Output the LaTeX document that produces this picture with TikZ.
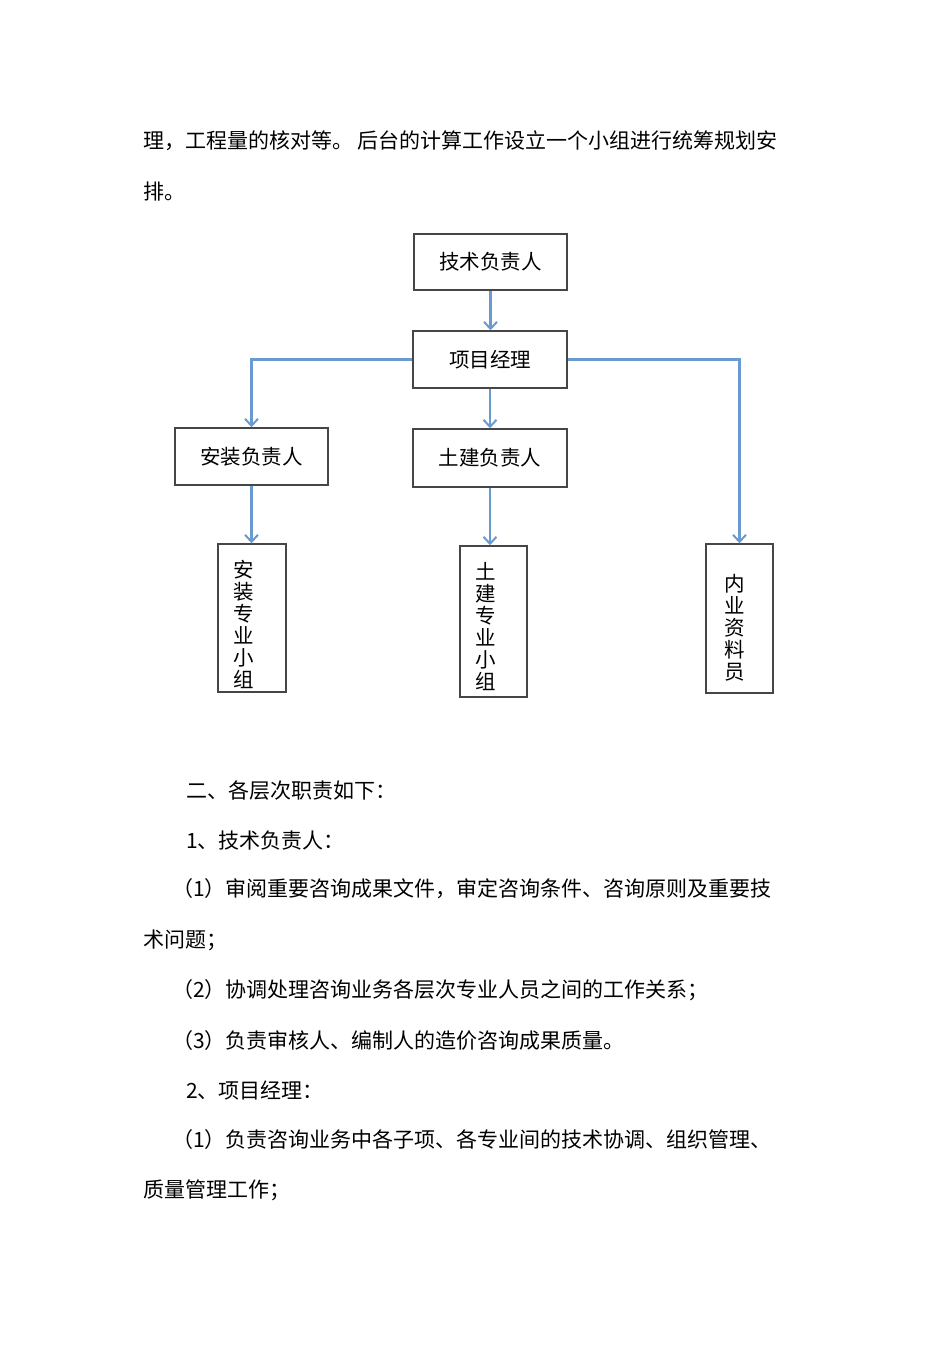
\documentclass[tikz,border=0pt]{standalone}
\usepackage{fontspec}
\newfontfamily\cjk{Noto Sans CJK SC}
\usetikzlibrary{arrows.meta}
\definecolor{arrowblue}{RGB}{105,155,208}
\definecolor{boxgray}{RGB}{70,70,70}
\begin{document}
\begin{tikzpicture}[x=1pt,y=-1pt,
  box/.style={draw=boxgray,line width=1.5pt,rectangle,inner sep=0pt,font=\fontsize{20.5}{22}\cjk,align=center},
  vlab/.style={font=\fontsize{20.5}{22}\cjk,align=center,inner sep=0pt},
  conn/.style={draw=arrowblue,line width=2.2pt,-{Straight Barb[length=7pt,width=13pt,line width=2pt]}},
  para/.style={anchor=west,inner sep=0pt,font=\fontsize{21}{22}\cjk}]
\fill[white] (0,0) rectangle (950,1345);
\useasboundingbox (0,0) rectangle (950,1345);
% paragraph text above
\node[para] (p1) at (143,141) {理，工程量的核对等。 后台的计算工作设立一个小组进行统筹规划安};
\node[para] (p2) at (143,192) {排。};
% boxes
\node[box,minimum width=153pt,minimum height=56pt] (top) at (490.5,262) {技术负责人};
\node[box,minimum width=154pt,minimum height=57pt] (pm) at (490,359.5) {项目经理};
\node[box,minimum width=153pt,minimum height=57pt] (az) at (251.5,456.5) {安装负责人};
\node[box,minimum width=154pt,minimum height=58pt] (tj) at (490,458) {土建负责人};
\node[box,minimum width=68pt,minimum height=148pt,
  label={[vlab,xshift=-8pt,yshift=-6pt]center:安\\装\\专\\业\\小\\组}] (azg) at (252,618) {};
\node[box,minimum width=67pt,minimum height=151pt,
  label={[vlab,xshift=-8pt,yshift=-5.5pt]center:土\\建\\专\\业\\小\\组}] (tjg) at (493.5,621.5) {};
\node[box,minimum width=67pt,minimum height=149pt,
  label={[vlab,xshift=-5pt,yshift=-9pt]center:内\\业\\资\\料\\员}] (nz) at (739.5,618.5) {};
% connectors
\draw[conn] (top.south) -- (top.south |- pm.north);
\draw[conn] (pm.west) -| (az.north);
\draw[conn] (pm.east) -| (nz.north);
\draw[conn] (pm.south) -- (pm.south |- tj.north);
\draw[conn] (az.south) -- (az.south |- azg.north);
\draw[conn] (tj.south) -- (tj.south |- tjg.north);
% text below
\node[para] (t1) at (186,791) {二、各层次职责如下：};
\node[para] (t2) at (186,841) {1、技术负责人：};
\node[para] (t3) at (172,889) {（1）审阅重要咨询成果文件，审定咨询条件、咨询原则及重要技};
\node[para] (t4) at (143,940) {术问题；};
\node[para] (t5) at (172,990) {（2）协调处理咨询业务各层次专业人员之间的工作关系；};
\node[para] (t6) at (172,1041) {（3）负责审核人、编制人的造价咨询成果质量。};
\node[para] (t7) at (186,1090) {2、项目经理：};
\node[para] (t8) at (172,1140) {（1）负责咨询业务中各子项、各专业间的技术协调、组织管理、};
\node[para] (t9) at (143,1190) {质量管理工作；};
\end{tikzpicture}
\end{document}
